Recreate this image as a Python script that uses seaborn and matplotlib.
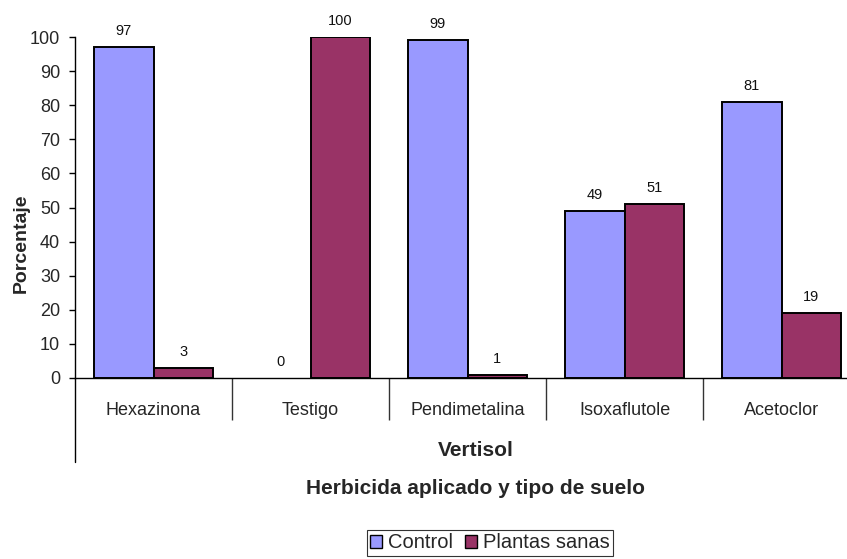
import matplotlib
matplotlib.use("Agg")
import matplotlib.pyplot as plt
from matplotlib.lines import Line2D
from matplotlib.patches import Patch
import seaborn as sns
import pandas as pd

# Data
herbicidas = ["Hexazinona", "Testigo", "Pendimetalina", "Isoxaflutole", "Acetoclor"]
control = [97, 0, 99, 49, 81]
plantas_sanas = [3, 100, 1, 51, 19]
series = ["Control", "Plantas sanas"]
colores = ["#9999FF", "#993366"]
suelo = "Vertisol"

df = pd.DataFrame({
    "Herbicida": herbicidas * 2,
    "Serie": [series[0]] * len(herbicidas) + [series[1]] * len(herbicidas),
    "Porcentaje": control + plantas_sanas,
})

sns.set_theme(style="white")
plt.rcParams["font.family"] = ["Liberation Sans", "DejaVu Sans"]

W, H = 847, 559
fig = plt.figure(figsize=(W / 100, H / 100), dpi=100)
ax_left, ax_right, ax_top, ax_bottom = 75, 860, 37, 378
ax = fig.add_axes([ax_left / W, 1 - ax_bottom / H,
                   (ax_right - ax_left) / W, (ax_bottom - ax_top) / H])

sns.barplot(data=df, x="Herbicida", y="Porcentaje", hue="Serie",
            order=herbicidas, hue_order=series, palette=colores,
            width=0.76, edgecolor="black", linewidth=1.4,
            saturation=1, legend=False, ax=ax)

# value labels above each bar; empty bars get no outline
for cont in ax.containers:
    for bar, v in zip(cont, cont.datavalues):
        if v == 0:
            bar.set_linewidth(0)
        ax.annotate(f"{v:.0f}", (bar.get_x() + bar.get_width() / 2, bar.get_height()),
                    xytext=(0, 6.5), textcoords="offset points",
                    ha="center", va="bottom", fontsize=10.5, color="#111111")

ax.set_ylim(0, 100)
ax.set_xlim(-0.5, len(herbicidas) - 0.5)
ax.set_yticks(range(0, 101, 10))
ax.set_xlabel("")
ax.set_ylabel("")

for s in ["top", "right"]:
    ax.spines[s].set_visible(False)
for s in ["left", "bottom"]:
    ax.spines[s].set_color("black")
    ax.spines[s].set_linewidth(1.0)

ax.tick_params(axis="y", which="major", direction="out", length=4.3, width=1.0,
               color="black", pad=6.5, labelsize=13, left=True)
ax.tick_params(axis="x", which="major", length=0, pad=17, labelsize=13)

# category separators below the axis
ax.set_xticks([i + 0.5 for i in range(len(herbicidas) - 1)], minor=True)
ax.tick_params(axis="x", which="minor", direction="out", length=30.5, width=1.0,
               color="#333333", bottom=True)

# left axis line continues down past the category labels
x0 = ax_left / W
fig.add_artist(Line2D([x0, x0], [1 - ax_bottom / H, 1 - 462 / H],
                      color="black", linewidth=1.0))

cx = (ax_left + ax_right) / 2 / W + 8 / W
fig.text(cx, 1 - 450 / H, suelo, ha="center", va="center",
         fontsize=15, fontweight="bold")
fig.text(cx, 1 - 489 / H, "Herbicida aplicado y tipo de suelo", ha="center",
         va="center", fontsize=15, fontweight="bold")
fig.text(21 / W, 1 - 243 / H, "Porcentaje", rotation=90, ha="center",
         va="center", fontsize=14, fontweight="bold")

handles = [Patch(facecolor=c, edgecolor="black", linewidth=1.0) for c in colores]
leg = fig.legend(handles, series, loc="center", bbox_to_anchor=(490 / W, 1 - 543 / H),
                 ncol=2, fontsize=14.5, frameon=True, fancybox=False,
                 handlelength=0.6, handleheight=0.6, handletextpad=0.3,
                 columnspacing=0.6, borderpad=0.15, borderaxespad=0)
leg.get_frame().set_edgecolor("black")
leg.get_frame().set_linewidth(0.8)

fig.savefig("out.png", dpi=100)
